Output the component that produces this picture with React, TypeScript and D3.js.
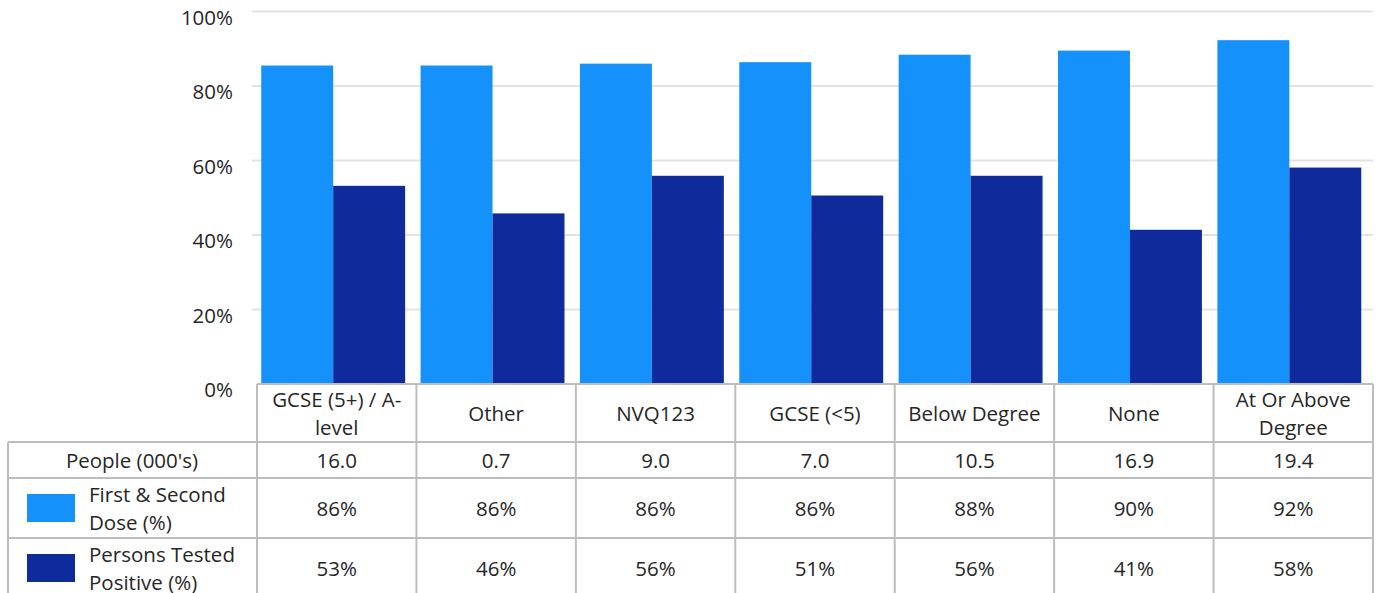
import React from "react";
import * as d3 from "d3";

const categories = ["GCSE (5+) / A-level", "Other", "NVQ123", "GCSE (<5)", "Below Degree", "None", "At Or Above Degree"];
const categoryLines = [["GCSE (5+) / A-", "level"], ["Other"], ["NVQ123"], ["GCSE (<5)"], ["Below Degree"], ["None"], ["At Or Above", "Degree"]];
const people = ["16.0", "0.7", "9.0", "7.0", "10.5", "16.9", "19.4"];
const firstDose = [85.5, 85.5, 86.0, 86.4, 88.4, 89.5, 92.3];
const testedPositive = [53.2, 45.8, 55.9, 50.6, 55.9, 41.4, 58.1];
const seriesNames = ["First & Second Dose (%)", "Persons Tested Positive (%)"];
const seriesLabelLines = [["First & Second", "Dose (%)"], ["Persons Tested", "Positive (%)"]];
const yTicks = [0, 20, 40, 60, 80, 100];

const W = 1378;
const H = 593;
const COLORS = ["#1591fb", "#0f2a9a"];
const FONT = "'Open Sans', 'Noto Sans', sans-serif";
const TEXT = "#262626";
const BORDER = "#bdbdbd";

export default function App() {
  const y = d3.scaleLinear().domain([0, 100]).range([384, 11.5]);
  const x = d3.scaleBand<string>().domain(categories).range([253.5, 1369]).paddingInner(0.097).paddingOuter(0.0485);
  const xs = d3.scaleBand<number>().domain([0, 1]).range([0, x.bandwidth()]);
  const tx = d3.scaleBand<string>().domain(categories).range([257, 1373]);
  const series = [firstDose, testedPositive];

  const rows = { headTop: 384, peopleTop: 442, doseTop: 478, posTop: 538, bottom: 600 };
  const leftX = 8;
  const fs = 20.5;
  const lh = 28;
  const dy = 2.5;

  return (
    <svg width={W} height={H} style={{ position: "fixed", left: 0, top: 0, display: "block" }} fontFamily={FONT}>
      <rect width={W} height={H} fill="#fff" />
      {yTicks.map((t) => (
        <g key={t}>
          {t > 0 && <line x1={252} x2={1373} y1={y(t)} y2={y(t)} stroke="#e3e3e3" strokeWidth={2} />}
          <text x={233} y={y(t) + 8} textAnchor="end" dominantBaseline="middle" fontSize={fs} fill={TEXT}>
            {t}%
          </text>
        </g>
      ))}
      {categories.map((c, i) => (
        <g key={c} transform={`translate(${x(c)},0)`}>
          {series.map((s, k) => (
            <rect key={k} x={xs(k)} y={y(s[i])} width={xs.bandwidth()} height={y(0) - y(s[i])} fill={COLORS[k]} />
          ))}
        </g>
      ))}
      {/* table */}
      <g stroke={BORDER} strokeWidth={2} fill="none">
        <line x1={257} x2={1373} y1={rows.headTop} y2={rows.headTop} />
        <line x1={leftX} x2={1373} y1={rows.peopleTop} y2={rows.peopleTop} />
        <line x1={leftX} x2={1373} y1={rows.doseTop} y2={rows.doseTop} />
        <line x1={leftX} x2={1373} y1={rows.posTop} y2={rows.posTop} />
        <line x1={leftX} x2={leftX} y1={rows.peopleTop} y2={rows.bottom} />
        {categories.map((c) => (
          <line key={c} x1={tx(c)} x2={tx(c)} y1={rows.headTop} y2={rows.bottom} />
        ))}
        <line x1={1373} x2={1373} y1={rows.headTop} y2={rows.bottom} />
      </g>
      {categories.map((c, i) => {
        const cx = (tx(c) as number) + tx.bandwidth() / 2;
        const lines = categoryLines[i];
        const cy = (rows.headTop + rows.peopleTop) / 2 + dy;
        return (
          <g key={c} fontSize={fs} fill={TEXT} textAnchor="middle">
            {lines.map((l, j) => (
              <text key={j} x={cx} y={cy + (j - (lines.length - 1) / 2) * lh} dominantBaseline="middle">
                {l}
              </text>
            ))}
            <text x={cx} y={(rows.peopleTop + rows.doseTop) / 2 + dy} dominantBaseline="middle">{people[i]}</text>
            <text x={cx} y={(rows.doseTop + rows.posTop) / 2 + dy} dominantBaseline="middle">{Math.round(firstDose[i])}%</text>
            <text x={cx} y={(rows.posTop + 598) / 2 + dy} dominantBaseline="middle">{Math.round(testedPositive[i])}%</text>
          </g>
        );
      })}
      <text x={132} y={(rows.peopleTop + rows.doseTop) / 2 + dy} textAnchor="middle" dominantBaseline="middle" fontSize={fs} fill={TEXT}>
        People (000's)
      </text>
      {seriesNames.map((n, k) => {
        const top = k === 0 ? rows.doseTop : rows.posTop;
        const cy = top + 30;
        return (
          <g key={n}>
            <rect x={27} y={cy - 14} width={48} height={28} fill={COLORS[k]} />
            {seriesLabelLines[k].map((l, j) => (
              <text key={j} x={89} y={cy + dy + (j - 0.5) * lh} dominantBaseline="middle" fontSize={fs} fill={TEXT}>
                {l}
              </text>
            ))}
          </g>
        );
      })}
    </svg>
  );
}
